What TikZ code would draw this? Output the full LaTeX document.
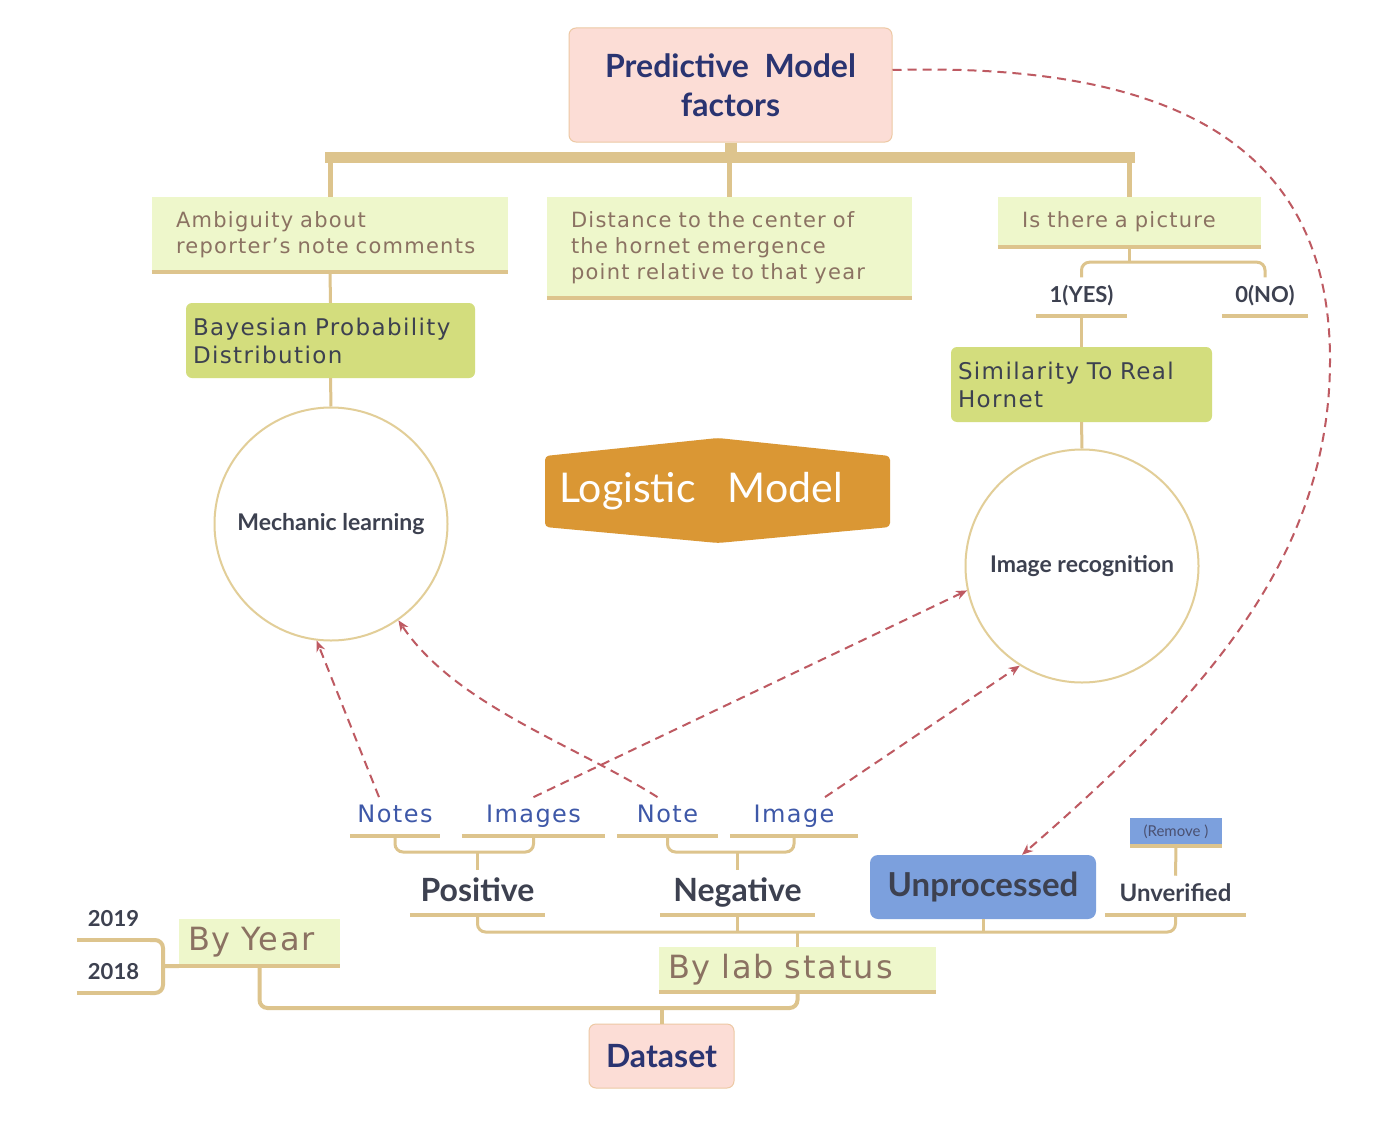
\documentclass[tikz,border=0pt]{standalone}
\usepackage{fontspec}
\setmainfont{Lato}
\newfontfamily\handfont[LetterSpace=6]{DejaVu Sans}
\usetikzlibrary{arrows.meta}

\definecolor{tanline}{HTML}{DDC48D}
\definecolor{pinkfill}{HTML}{FCDDD6}
\definecolor{pinkedge}{HTML}{EDC9A4}
\definecolor{factorfill}{HTML}{EEF7CB}
\definecolor{methodfill}{HTML}{D3DD7D}
\definecolor{logifill}{HTML}{DA9734}
\definecolor{bluefill}{HTML}{7CA0DD}
\definecolor{navy}{HTML}{2A3471}
\definecolor{darkgrey}{HTML}{3D4150}
\definecolor{handbrown}{HTML}{8B7262}
\definecolor{bluehand}{HTML}{3E58A8}
\definecolor{linkred}{HTML}{BE5A62}
\definecolor{circleedge}{HTML}{E2CE98}
\definecolor{removegrey}{HTML}{4A5070}

\tikzset{
  topic/.style={draw=pinkedge, line width=1pt, fill=pinkfill, rounded corners=7pt,
    text=navy, align=center, font=\bfseries\fontsize{32}{39}\selectfont},
  factor/.style={fill=factorfill, text=handbrown, align=left, inner xsep=24pt,
    inner ysep=0pt, font=\handfont\fontsize{21}{26}\selectfont},
  method/.style={fill=methodfill, rounded corners=6pt, text=darkgrey, align=left,
    inner xsep=7pt, inner ysep=0pt, font=\handfont\fontsize{23}{28}\selectfont},
  tool/.style={circle, draw=circleedge, line width=2pt, fill=white, minimum size=233pt,
    inner sep=0pt, text=darkgrey, font=\bfseries\fontsize{23}{26}\selectfont},
  leaf/.style={anchor=south, inner xsep=0pt, inner ysep=8pt, text depth=5pt,
    text=darkgrey, font=\bfseries\fontsize{22}{25}\selectfont},
  sample/.style={leaf, text=bluehand, font=\handfont\fontsize{24}{28}\selectfont},
  status/.style={leaf, font=\bfseries\fontsize{32}{36}\selectfont},
  rawbox/.style={fill=bluefill, rounded corners=8pt, text=darkgrey,
    font=\bfseries\fontsize{33}{36}\selectfont},
  tag/.style={fill=bluefill, text=removegrey, inner sep=0pt,
    font=\fontsize{15}{17}\selectfont},
  group/.style={factor, inner xsep=9pt, font=\handfont\fontsize{32}{36}\selectfont},
  stem/.style={draw=tanline, line width=3pt},
  fork/.style={stem, rounded corners=8pt},
  trunk/.style={draw=tanline, line width=11pt, line cap=rect},
  uline/.style={draw=tanline, line width=4.5pt},
  link/.style={draw=linkred, line width=2pt, dash pattern=on 9pt off 6pt,
    -{Stealth[length=11pt,width=9pt]}}
}

\begin{document}
\begin{tikzpicture}[x=1pt, y=-1pt]
  % Canvas
  \fill[white] (0,0) rectangle (1376,1148);
  \useasboundingbox (0,0) rectangle (1376,1148);

  % Root
  \node[topic, minimum width=323pt, minimum height=114pt] (pmf) at (730.5,85) {Predictive\ \ Model\\factors};

  % Factors
  \node[factor, text width=308pt, minimum height=75pt] (amb) at (330,234.5) {Ambiguity about\\reporter’s note comments};
  \node[factor, text width=317pt, minimum height=101pt] (dist) at (729.5,247.5) {Distance to the center of\\the hornet emergence\\point relative to that year};
  \node[factor, text width=215pt, minimum height=50pt] (pic) at (1129.5,222) {Is there a picture};

  % Methods
  \node[method, text width=275pt, minimum height=75pt] (bayes) at (330.5,340.5) {Bayesian Probability\\Distribution};
  \node[leaf, minimum width=91pt] (yes) at (1081.5,316) {1(YES)};
  \node[leaf, minimum width=86pt] (no) at (1265,316) {0(NO)};
  \node[method, text width=247pt, minimum height=75pt] (sim) at (1081.5,384.5) {Similarity To Real\\Hornet};
  \node[tool] (mech) at (331,524) {Mechanic learning};
  \node[tool] (imgrec) at (1082,566) {Image recognition};

  % Logistic model
  \fill[logifill, rounded corners=4pt] (545,456) -- (718,438) -- (890,456) -- (890,527) -- (718,543) -- (545,527) -- cycle;
  \node[text=white, font=\fontsize{41}{44}\selectfont] (logit) at (701,491) {Logistic\hspace{32pt}Model};

  % Samples
  \node[sample, minimum width=90pt] (notes) at (395,836) {Notes};
  \node[sample, minimum width=143pt] (images) at (533.5,836) {Images};
  \node[sample, minimum width=101pt] (note) at (667.5,836) {Note};
  \node[sample, minimum width=128pt] (image) at (794,836) {Image};

  % Lab status
  \node[status, minimum width=135pt] (positive) at (477.5,915) {Positive};
  \node[status, minimum width=155pt] (negative) at (737.5,915) {Negative};
  \node[rawbox, minimum width=226pt, minimum height=64pt] (unproc) at (983,887) {Unprocessed};
  \node[leaf, minimum width=141pt, font=\bfseries\fontsize{24}{27}\selectfont] (unver) at (1175.5,915) {Unverified};
  \node[tag, minimum width=92pt, minimum height=28pt] (remove) at (1176,832) {(Remove )};

  % Dataset
  \node[group, text width=259pt, minimum height=45pt] (bylab) at (797.5,969.5) {By lab status};
  \node[group, text width=143pt, minimum height=47pt] (byyear) at (259.5,942.5) {By Year};
  \node[leaf, minimum width=73pt] (y2019) at (113.5,940) {2019};
  \node[leaf, minimum width=73pt] (y2018) at (113.5,993) {2018};
  \node[topic, minimum width=145pt, minimum height=64pt] (dataset) at (661.5,1056) {Dataset};

  % Underlines
  \foreach \n in {amb,dist,pic,yes,no,notes,images,note,image,positive,negative,unver,remove,bylab,byyear,y2019,y2018}
    \draw[uline] (\n.south west) -- (\n.south east);

  % Factor tree
  \coordinate (hub) at (730.5,157);
  \draw[stem, line width=12pt] (pmf.south) -- (hub);
  \draw[trunk] (amb.north |- hub) -- (pic.north |- hub);
  \foreach \n in {amb,dist,pic}
    \draw[stem, line width=5pt] (\n.north) -- (\n.north |- hub);
  \draw[stem] (amb.south) -- (bayes.north);
  \draw[stem] (bayes.south) -- (mech.north);
  \draw[stem] (pic.south) -- ++(0,15) coordinate (pfork);
  \draw[fork] (yes.north) |- (pfork) -| (no.north);
  \draw[stem] (yes.south) -- (sim.north);
  \draw[stem] (sim.south) -- (imgrec.north);

  % Data tree
  \coordinate (posfork) at (477.5,852);
  \coordinate (negfork) at (737.5,852);
  \draw[fork] (notes.south) |- (posfork) -| (images.south);
  \draw[stem] (posfork) -- (positive.north);
  \draw[fork] (note.south) |- (negfork) -| (image.south);
  \draw[stem] (negfork) -- (negative.north);
  \coordinate (labfork) at (797.5,932);
  \draw[fork] (positive.south) |- (labfork) -| (unver.south);
  \draw[stem] (negative.south) -- (negative.south |- labfork);
  \draw[stem] (unproc.south) -- (unproc.south |- labfork);
  \draw[stem] (labfork) -- (bylab.north);
  \draw[stem] (remove.south) -- (unver.north);
  \coordinate (datafork) at (661.5,1008);
  \draw[fork, line width=4pt] (byyear.south) |- (datafork) -| (bylab.south);
  \draw[stem, line width=4pt] (datafork) -- (dataset.north);
  \coordinate (yearfork) at (163,966);
  \draw[fork, line width=4pt] (y2019.south east) -| (yearfork) |- (y2018.south east);
  \draw[stem, line width=4pt] (yearfork) -- (byyear.south west);

  % Links
  \draw[link] ([xshift=-16pt]notes.north) -- (mech.-97);
  \draw[link] ([xshift=-10pt]note.north) .. controls (575,745) and (455,705) .. (mech.-55);
  \draw[link] (images.north) -- (imgrec.192);
  \draw[link] ([xshift=31pt]image.north) -- (imgrec.238);
  \draw[link] ([yshift=15pt]pmf.east) .. controls (1180,62) and (1330,150) .. (1330,360)
    .. controls (1330,560) and (1200,700) .. ([xshift=39pt]unproc.north);
\end{tikzpicture}
\end{document}
